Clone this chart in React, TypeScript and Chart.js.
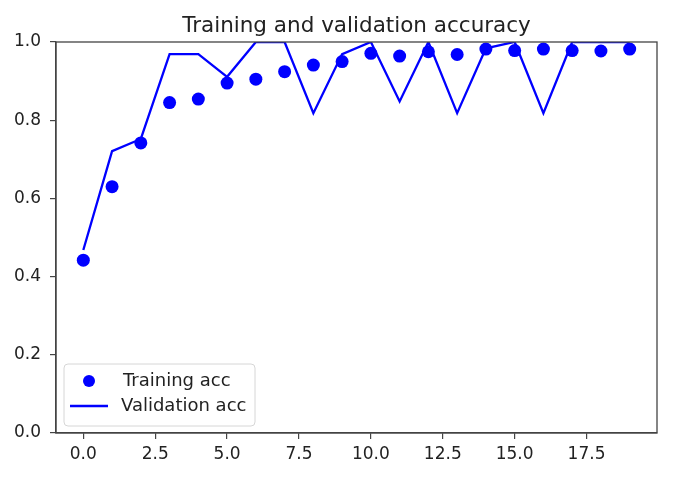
import React, { useEffect, useRef } from "react";
import { Chart, registerables } from "chart.js";

Chart.register(...registerables);

const epochs = [0, 1, 2, 3, 4, 5, 6, 7, 8, 9, 10, 11, 12, 13, 14, 15, 16, 17, 18, 19];
const trainAcc = [0.442, 0.63, 0.742, 0.845, 0.854, 0.895, 0.905, 0.924, 0.941, 0.95, 0.971, 0.964, 0.975, 0.968, 0.982, 0.978, 0.982, 0.978, 0.977, 0.982];
const valAcc = [0.468, 0.721, 0.752, 0.969, 0.969, 0.911, 1.0, 1.0, 0.818, 0.969, 1.0, 0.848, 1.0, 0.818, 0.984, 1.0, 0.818, 1.0, 1.0, 1.0];
const xTicks = [0, 2.5, 5, 7.5, 10, 12.5, 15, 17.5];
const yTicks = [0, 0.2, 0.4, 0.6, 0.8, 1.0];
const titleText = "Training and validation accuracy";
const legendLabels = ["Training acc", "Validation acc"];

const FONT = "'DejaVu Sans', sans-serif";
const BLUE = "#0000ff";
const AXIS = "#444444";

const framePlugin = {
  id: "mplFrame",
  afterDraw(chart: any) {
    const { ctx, chartArea } = chart;
    const { left, right, top, bottom } = chartArea;
    ctx.save();
    // frame
    ctx.strokeStyle = AXIS;
    ctx.lineWidth = 1.3;
    ctx.strokeRect(left, top, right - left, bottom - top);
    // title
    ctx.fillStyle = "#222";
    ctx.font = `21.5px ${FONT}`;
    ctx.textAlign = "center";
    ctx.textBaseline = "alphabetic";
    ctx.fillText(titleText, (left + right) / 2, top - 10);
    // legend box
    const bx = left + 8, by = bottom - 69, bw = 191, bh = 62, r = 4;
    ctx.beginPath();
    ctx.moveTo(bx + r, by);
    ctx.lineTo(bx + bw - r, by);
    ctx.quadraticCurveTo(bx + bw, by, bx + bw, by + r);
    ctx.lineTo(bx + bw, by + bh - r);
    ctx.quadraticCurveTo(bx + bw, by + bh, bx + bw - r, by + bh);
    ctx.lineTo(bx + r, by + bh);
    ctx.quadraticCurveTo(bx, by + bh, bx, by + bh - r);
    ctx.lineTo(bx, by + r);
    ctx.quadraticCurveTo(bx, by, bx + r, by);
    ctx.closePath();
    ctx.fillStyle = "rgba(255,255,255,0.8)";
    ctx.fill();
    ctx.strokeStyle = "#d6d6d6";
    ctx.lineWidth = 1;
    ctx.stroke();
    // marker
    const row1 = by + 17, row2 = by + 42;
    ctx.fillStyle = BLUE;
    ctx.beginPath();
    ctx.arc(bx + 25, row1, 6, 0, Math.PI * 2);
    ctx.fill();
    // line
    ctx.strokeStyle = BLUE;
    ctx.lineWidth = 2.3;
    ctx.beginPath();
    ctx.moveTo(bx + 6, row2);
    ctx.lineTo(bx + 44, row2);
    ctx.stroke();
    // text
    ctx.fillStyle = "#222";
    ctx.font = `18px ${FONT}`;
    ctx.textAlign = "left";
    ctx.textBaseline = "middle";
    ctx.fillText(legendLabels[0], bx + 59, row1);
    ctx.fillText(legendLabels[1], bx + 57, row2);
    ctx.restore();
  },
};

export default function App() {
  const ref = useRef<HTMLCanvasElement | null>(null);

  useEffect(() => {
    if (!ref.current) return;
    const chart = new Chart(ref.current, {
      type: "scatter",
      data: {
        datasets: [
          {
            label: legendLabels[1],
            data: epochs.map((e, i) => ({ x: e, y: valAcc[i] })),
            showLine: true,
            borderColor: BLUE,
            backgroundColor: BLUE,
            borderWidth: 2.3,
            pointRadius: 0,
            tension: 0,
            order: 0,
          },
          {
            label: legendLabels[0],
            data: epochs.map((e, i) => ({ x: e, y: trainAcc[i] })),
            showLine: false,
            backgroundColor: BLUE,
            borderColor: BLUE,
            borderWidth: 0,
            pointRadius: 6.5,
            order: 1,
          },
        ],
      },
      options: {
        responsive: false,
        animation: false,
        layout: { padding: { left: 0, top: 42, right: 33, bottom: 0 } },
        plugins: {
          legend: { display: false },
          title: { display: false },
          tooltip: { enabled: false },
        },
        scales: {
          x: {
            type: "linear",
            min: -0.95,
            max: 19.95,
            afterFit: (s: any) => { s.height = 48; },
            afterBuildTicks: (s: any) => { s.ticks = xTicks.map((v) => ({ value: v })); },
            grid: { display: true, drawOnChartArea: false, drawTicks: true, tickLength: 6, color: AXIS, lineWidth: 1.2 },
            border: { display: true, color: AXIS, width: 1.3 },
            ticks: {
              padding: 5,
              color: "#222",
              font: { family: FONT, size: 17 },
              callback: (v: any) => Number(v).toFixed(1),
              maxRotation: 0,
            },
          },
          y: {
            type: "linear",
            min: 0,
            max: 1,
            afterFit: (s: any) => { s.width = 56; },
            afterBuildTicks: (s: any) => { s.ticks = yTicks.map((v) => ({ value: v })); },
            grid: { display: true, drawOnChartArea: false, drawTicks: true, tickLength: 6, color: AXIS, lineWidth: 1.2 },
            border: { display: true, color: AXIS, width: 1.3 },
            ticks: {
              padding: 9,
              color: "#222",
              font: { family: FONT, size: 17 },
              callback: (v: any) => Number(v).toFixed(1),
            },
          },
        },
      },
      plugins: [framePlugin],
    });
    return () => chart.destroy();
  }, []);

  return (
    <div style={{ position: "absolute", left: 0, top: 0, width: 690, height: 481, background: "#fff" }}>
      <canvas ref={ref} width={690} height={481} style={{ display: "block" }} />
    </div>
  );
}
